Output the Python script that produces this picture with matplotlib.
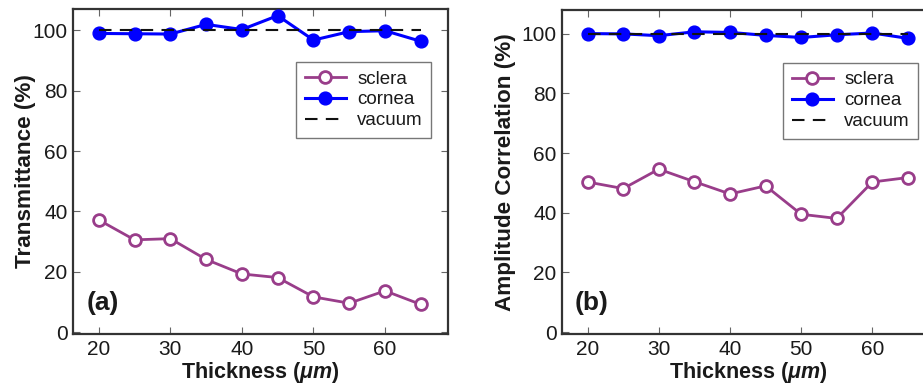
import matplotlib
matplotlib.use("Agg")
import matplotlib.pyplot as plt

plt.rcParams['font.family'] = ['Liberation Sans', 'DejaVu Sans']
plt.rcParams['mathtext.fontset'] = 'custom'
plt.rcParams['mathtext.rm'] = 'Liberation Sans:bold'
plt.rcParams['mathtext.it'] = 'Liberation Sans:italic:bold'
plt.rcParams['mathtext.bf'] = 'Liberation Sans:bold'

thickness = [20, 25, 30, 35, 40, 45, 50, 55, 60, 65]

trans_sclera = [37.2, 30.6, 31.0, 24.1, 19.3, 18.1, 11.7, 9.6, 13.7, 9.2]
trans_cornea = [99.0, 98.9, 98.8, 102.0, 100.3, 104.9, 96.8, 99.6, 99.9, 96.4]

corr_sclera = [50.3, 48.1, 54.6, 50.4, 46.3, 49.0, 39.5, 38.1, 50.3, 51.8]
corr_cornea = [100.0, 99.9, 99.3, 100.6, 100.4, 99.4, 98.7, 99.6, 100.2, 98.4]

vacuum_x = [20, 65]
vacuum_y = [100, 100]

xticks = [20, 30, 40, 50, 60]
yticks = [0, 20, 40, 60, 80, 100]

SCLERA = '#993D8A'
CORNEA = '#0000FF'
TXT = '#1a1a1a'

fig = plt.figure(figsize=(9.23, 3.87), dpi=100)
ax1 = fig.add_axes([73/923, 53/387, 375/923, 325/387])
ax2 = fig.add_axes([562/923, 53/387, 373/923, 324/387])

panels = [
    (ax1, trans_sclera, trans_cornea, 'Transmittance (%)', '(a)', 107.1, -2.5),
    (ax2, corr_sclera, corr_cornea, 'Amplitude Correlation (%)', '(b)', 107.9, 4),
]

for ax, sc, co, ylab, tag, ytop, lpad in panels:
    ax.plot(thickness, sc, '-o', color=SCLERA, lw=2, ms=8.5,
            mfc='white', mec=SCLERA, mew=2, label='sclera', zorder=3)
    ax.plot(thickness, co, '-o', color=CORNEA, lw=2.2, ms=9.2,
            mfc=CORNEA, mec=CORNEA, label='cornea', zorder=3)
    ax.plot(vacuum_x, vacuum_y, '--', color='#111111', lw=1.5,
            dashes=(6, 4), label='vacuum', zorder=4)
    ax.set_xlim(16.4, 68.8)
    ax.set_ylim(-0.6, ytop)
    ax.set_xticks(xticks)
    ax.set_yticks(yticks)
    ax.tick_params(direction='in', top=True, right=True, length=5,
                   width=0.8, labelsize=15, colors='#666666',
                   labelcolor=TXT, pad=4)
    for s in ax.spines.values():
        s.set_linewidth(1.6)
        s.set_color('#333333')
    ax.set_xlabel('Thickness ($\\mathit{\\mu m}$)', fontsize=15.5,
                  fontweight='bold', color=TXT, labelpad=1)
    ax.set_ylabel(ylab, fontsize=16.2, fontweight='bold', color=TXT,
                  labelpad=lpad)
    ax.text(0.08, 0.095, tag, transform=ax.transAxes, fontsize=19,
            fontweight='bold', color=TXT, ha='center', va='center')
    leg = ax.legend(loc='upper right', bbox_to_anchor=(0.955, 0.837),
                    borderaxespad=0, fontsize=13.5, frameon=True,
                    fancybox=False, edgecolor='#555555', handlelength=2.2,
                    borderpad=0.45, labelspacing=0.2, handletextpad=0.6)
    leg.get_frame().set_linewidth(1.0)
    for t in leg.get_texts():
        t.set_color(TXT)

fig.savefig('out.png', dpi=100)
